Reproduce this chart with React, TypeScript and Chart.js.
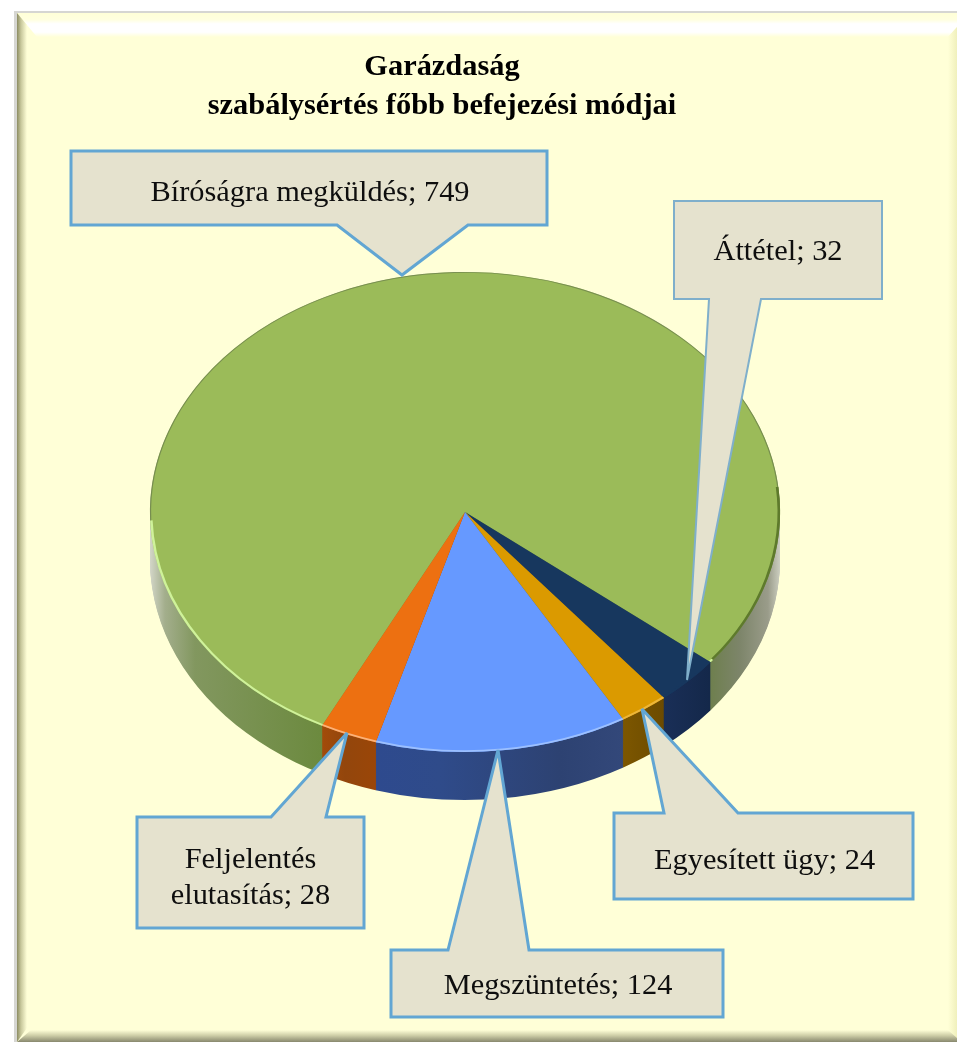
import React, { useEffect, useRef } from "react";
import { Chart, registerables } from "chart.js";

Chart.register(...registerables);

const titleLines = ["Garázdaság", "szabálysértés főbb befejezési módjai"];
const categories = ["Bíróságra megküldés", "Áttétel", "Egyesített ügy", "Megszüntetés", "Feljelentés elutasítás"];
const values = [749, 32, 24, 124, 28];

const faceColors = ["#9BBB59", "#17375E", "#DB9A00", "#6699FF", "#ED7011"];
const rimColors = ["#CFF29A", "#17375E", "#EDB63A", "#9CC0FF", "#FBB27A"];
const sideStops: [number, string][][] = [
  [[150, "#D3D6C8"], [165, "#A3AE8C"], [195, "#82975F"], [320, "#6C8A3F"], [690, "#6C8A3F"], [710, "#6E7F4E"], [740, "#7D856A"], [768, "#9A9C8A"], [781, "#D0D2C4"]],
  [[660, "#1A2F58"], [710, "#14284A"]],
  [[622, "#7D5700"], [665, "#6B4A00"]],
  [[375, "#2E4A8E"], [440, "#2F4B8A"], [560, "#2D4272"], [625, "#33487A"]],
  [[320, "#A44C0A"], [345, "#93460C"], [375, "#9A4608"]],
];

// Callout layout (canvas pixels): box, pointer base and tip, text nudge, outline.
const calloutBoxes = [
  { x0: 71, y0: 151, x1: 547, y1: 225, base: [337, 468], tip: [402, 275], side: "bottom", textDx: 1, textDy: 4, lh: 38, stroke: "#62A6D3", lw: 3 },
  { x0: 674, y0: 201, x1: 882, y1: 299, base: [709, 761], tip: [687, 680], side: "bottom", textDx: 0, textDy: 1, lh: 38, stroke: "#7FAFCB", lw: 2 },
  { x0: 614, y0: 813, x1: 913, y1: 899, base: [664, 738], tip: [642, 709], side: "top", textDx: 1, textDy: 4, lh: 38, stroke: "#62A6D3", lw: 3 },
  { x0: 391, y0: 950, x1: 723, y1: 1017, base: [448, 529], tip: [498, 750], side: "top", textDx: 1, textDy: 2, lh: 38, stroke: "#62A6D3", lw: 3 },
  { x0: 137, y0: 817, x1: 364, y1: 928, base: [271, 326], tip: [347, 733], side: "top", textDx: 0, textDy: 5, lh: 36, stroke: "#62A6D3", lw: 3 },
];

const W = 957;
const H = 1042;
const CX = 465;
const CY = 512;
const SQUASH = 0.762;
const DEPTH = 48;
const TITLE_SHIFT = -23;

function pieTransform(ctx: CanvasRenderingContext2D, arc: any, dy: number) {
  ctx.translate(CX, CY + dy);
  ctx.scale(1, SQUASH);
  ctx.translate(-arc.x, -arc.y);
}

const framePlugin = {
  id: "frame",
  afterLayout(chart: any) {
    chart.titleBlock.left += TITLE_SHIFT;
    chart.titleBlock.right += TITLE_SHIFT;
  },
  beforeDraw(chart: any) {
    const c: CanvasRenderingContext2D = chart.ctx;
    c.save();
    c.fillStyle = "#FFFFFF";
    c.fillRect(0, 0, W, H);
    c.fillStyle = "#D6D6D2";
    c.fillRect(14, 11, W - 14, H - 11);
    c.fillStyle = "#FFFFD7";
    c.fillRect(17, 13, W - 17, H - 13);

    // top bevel
    let g = c.createLinearGradient(0, 13, 0, 37);
    g.addColorStop(0, "#FFFFD7");
    g.addColorStop(0.28, "#FFFFDF");
    g.addColorStop(0.45, "#FFFFFF");
    g.addColorStop(0.8, "#FFFFFF");
    g.addColorStop(1, "#FFFFD7");
    c.fillStyle = g;
    c.beginPath();
    c.moveTo(17, 13);
    c.lineTo(W, 13);
    c.lineTo(W, 27);
    c.lineTo(948, 37);
    c.lineTo(37, 37);
    c.closePath();
    c.fill();

    // left bevel
    g = c.createLinearGradient(17, 0, 27, 0);
    g.addColorStop(0, "#8C8C62");
    g.addColorStop(0.4, "#C8C89C");
    g.addColorStop(1, "#FFFFD7");
    c.fillStyle = g;
    c.beginPath();
    c.moveTo(17, 13);
    c.lineTo(27, 25);
    c.lineTo(27, 1028);
    c.lineTo(17, H);
    c.closePath();
    c.fill();

    // bottom bevel
    g = c.createLinearGradient(0, 1030, 0, H);
    g.addColorStop(0, "#FFFFD7");
    g.addColorStop(0.45, "#CFCFA8");
    g.addColorStop(1, "#88886E");
    c.fillStyle = g;
    c.beginPath();
    c.moveTo(17, H);
    c.lineTo(31, 1030);
    c.lineTo(W, 1030);
    c.lineTo(W, H);
    c.closePath();
    c.fill();

    // right bevel
    g = c.createLinearGradient(948, 0, W, 0);
    g.addColorStop(0, "#FFFFD7");
    g.addColorStop(1, "#F0F0BC");
    c.fillStyle = g;
    c.beginPath();
    c.moveTo(948, 37);
    c.lineTo(W, 27);
    c.lineTo(W, H - 4);
    c.lineTo(948, 1030);
    c.closePath();
    c.fill();
    c.restore();
  },
};

const solidPiePlugin = {
  id: "solidPie",
  beforeDatasetDraw(chart: any, args: any) {
    const c: CanvasRenderingContext2D = chart.ctx;
    const arcs: any[] = args.meta.data;
    const sides = sideStops.map((stops) => {
      const a = stops[0][0];
      const b = stops[stops.length - 1][0];
      const g = c.createLinearGradient(a, 0, b, 0);
      stops.forEach(([x, col]) => g.addColorStop((x - a) / (b - a), col));
      return g;
    });
    for (let d = DEPTH; d >= 1; d--) {
      c.save();
      pieTransform(c, arcs[0], d);
      arcs.forEach((arc, i) => {
        const saved = arc.options;
        arc.options = { ...saved, backgroundColor: sides[i], borderWidth: 0 };
        arc.draw(c);
        arc.options = saved;
      });
      c.restore();
    }
    c.save();
    pieTransform(c, arcs[0], 0);
  },
  afterDatasetDraw(chart: any, args: any) {
    const c: CanvasRenderingContext2D = chart.ctx;
    const arcs: any[] = args.meta.data;
    // lit front rim, thin shaded back rim, dark olive right rim
    const rad = Math.PI / 180;
    const lo = 38 * rad;
    const hi = 178 * rad;
    const full = Math.PI * 2;
    arcs.forEach((arc, i) => {
      const r = arc.outerRadius;
      [-full, 0, full].forEach((k) => {
        const s = Math.max(arc.startAngle, lo + k);
        const e = Math.min(arc.endAngle, hi + k);
        if (e > s) {
          c.beginPath();
          c.arc(arc.x, arc.y, r - 1.2, s, e);
          c.strokeStyle = rimColors[i];
          c.lineWidth = 2.4;
          c.stroke();
        }
      });
      const s2 = Math.max(arc.startAngle, hi);
      const e2 = Math.min(arc.endAngle, lo + full);
      if (e2 > s2) {
        c.beginPath();
        c.arc(arc.x, arc.y, r - 0.5, s2, e2);
        c.strokeStyle = "rgba(105,125,75,0.75)";
        c.lineWidth = 1.2;
        c.stroke();
        c.beginPath();
        c.arc(arc.x, arc.y, r - 1.2, full - 6 * rad, e2);
        c.strokeStyle = "#5E7A2C";
        c.lineWidth = 2.6;
        c.stroke();
      }
    });
    c.restore();
  },
  afterDatasetsDraw(chart: any) {
    const c: CanvasRenderingContext2D = chart.ctx;
    c.save();
    calloutBoxes.forEach((b, i) => {
      c.beginPath();
      c.moveTo(b.x0, b.y0);
      if (b.side === "top") {
        c.lineTo(b.base[0], b.y0);
        c.lineTo(b.tip[0], b.tip[1]);
        c.lineTo(b.base[1], b.y0);
      }
      c.lineTo(b.x1, b.y0);
      c.lineTo(b.x1, b.y1);
      if (b.side === "bottom") {
        c.lineTo(b.base[1], b.y1);
        c.lineTo(b.tip[0], b.tip[1]);
        c.lineTo(b.base[0], b.y1);
      }
      c.lineTo(b.x0, b.y1);
      c.closePath();
      c.fillStyle = "#E5E2CE";
      c.fill();
      c.strokeStyle = b.stroke;
      c.lineWidth = b.lw;
      c.lineJoin = "miter";
      c.miterLimit = 3;
      c.stroke();

      c.fillStyle = "#0E0E0E";
      c.font = "30.4px 'Liberation Serif'";
      c.textAlign = "center";
      c.textBaseline = "middle";
      const words = `${categories[i]}; ${values[i]}`.split(" ");
      const maxW = b.x1 - b.x0 - 30;
      const lines: string[] = [];
      let cur = "";
      words.forEach((w) => {
        const t = cur ? `${cur} ${w}` : w;
        if (cur && c.measureText(t).width > maxW) {
          lines.push(cur);
          cur = w;
        } else cur = t;
      });
      lines.push(cur);
      const mid = (b.y0 + b.y1) / 2 + 1 + b.textDy;
      lines.forEach((l, n) => {
        c.fillText(l, (b.x0 + b.x1) / 2 + b.textDx, mid + (n - (lines.length - 1) / 2) * b.lh);
      });
    });
    c.restore();
  },
};

export default function App() {
  const ref = useRef<HTMLCanvasElement>(null);
  useEffect(() => {
    document.body.style.margin = "0";
    const chart = new Chart(ref.current!, {
      type: "pie",
      data: {
        labels: categories,
        datasets: [{ data: values, backgroundColor: faceColors, borderWidth: 0, clip: false } as any],
      },
      options: {
        animation: false,
        responsive: false,
        rotation: 207,
        layout: { padding: { left: 150, right: 177, top: 0, bottom: 154 } },
        plugins: {
          legend: { display: false },
          tooltip: { enabled: false },
          title: {
            display: true,
            text: titleLines,
            color: "#000000",
            font: { family: "'Liberation Serif'", size: 30.4, weight: "bold", lineHeight: 1.283 },
            padding: { top: 48, bottom: 10 },
          },
        },
      },
      plugins: [framePlugin, solidPiePlugin],
    } as any);
    return () => chart.destroy();
  }, []);
  return <canvas ref={ref} width={W} height={H} style={{ display: "block", width: W, height: H }} />;
}
